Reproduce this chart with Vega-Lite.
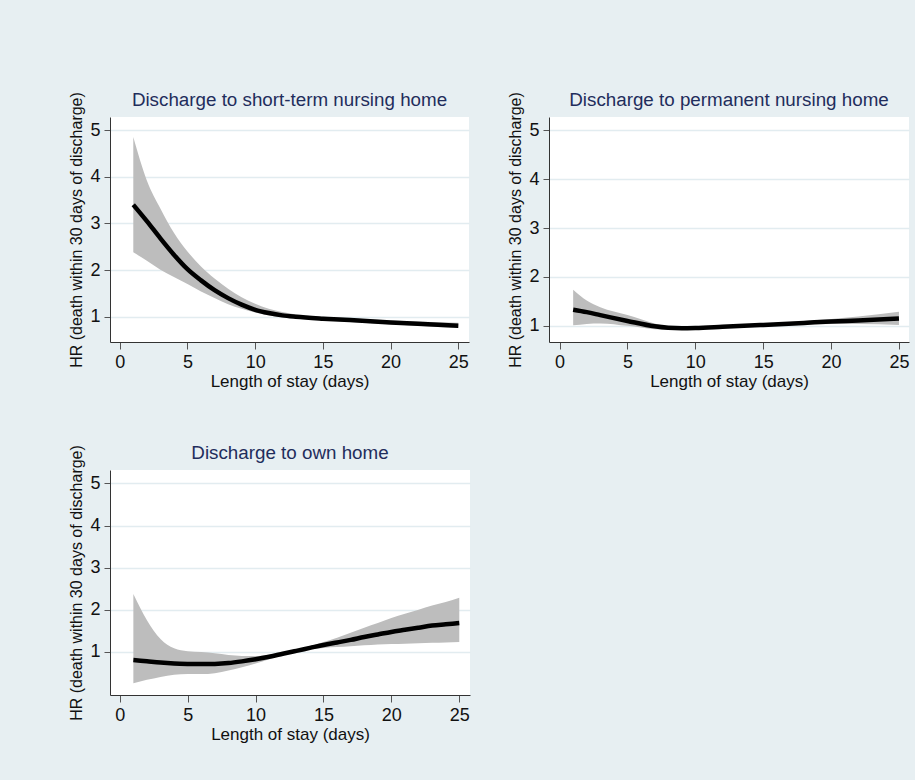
{
  "$schema": "https://vega.github.io/schema/vega-lite/v6.json",
  "background": "#e7eff2",
  "padding": {"left": 68, "top": 90, "right": 6, "bottom": 40},
  "config": {
    "font": "Liberation Sans",
    "view": {"fill": "white", "stroke": null},
    "title": {"fontSize": 18.8, "fontWeight": "normal", "color": "#1f2d5c", "offset": -18, "anchor": "middle"},
    "axis": {"domainColor": "#333333", "tickColor": "#555555", "labelColor": "#111111", "titleColor": "#111111", "labelFont": "Liberation Sans", "titleFont": "Liberation Sans", "titleFontWeight": "normal"},
    "axisX": {"grid": false, "tickSize": 7, "labelFontSize": 18, "labelPadding": 4, "titleFontSize": 17, "titlePadding": 2},
    "axisY": {"grid": true, "gridColor": "#e2ecf0", "gridWidth": 1.5, "tickSize": 6, "labelFontSize": 18, "labelPadding": 4, "titleFontSize": 16, "titlePadding": 5}
  },
  "datasets": {
    "d": [
      {"p": 1, "x": 1, "hr": 3.40, "lo": 2.38, "hi": 4.85},
      {"p": 1, "x": 2, "hr": 3.05, "lo": 2.20, "hi": 3.92},
      {"p": 1, "x": 3, "hr": 2.68, "lo": 2.01, "hi": 3.32},
      {"p": 1, "x": 4, "hr": 2.33, "lo": 1.85, "hi": 2.80},
      {"p": 1, "x": 5, "hr": 2.02, "lo": 1.70, "hi": 2.40},
      {"p": 1, "x": 6, "hr": 1.78, "lo": 1.54, "hi": 2.08},
      {"p": 1, "x": 7, "hr": 1.57, "lo": 1.40, "hi": 1.82},
      {"p": 1, "x": 8, "hr": 1.40, "lo": 1.27, "hi": 1.60},
      {"p": 1, "x": 9, "hr": 1.26, "lo": 1.17, "hi": 1.42},
      {"p": 1, "x": 10, "hr": 1.15, "lo": 1.09, "hi": 1.28},
      {"p": 1, "x": 11, "hr": 1.08, "lo": 1.03, "hi": 1.17},
      {"p": 1, "x": 12, "hr": 1.03, "lo": 0.99, "hi": 1.10},
      {"p": 1, "x": 13, "hr": 1.00, "lo": 0.97, "hi": 1.05},
      {"p": 1, "x": 15, "hr": 0.96, "lo": 0.93, "hi": 1.00},
      {"p": 1, "x": 17, "hr": 0.93, "lo": 0.89, "hi": 0.97},
      {"p": 1, "x": 20, "hr": 0.88, "lo": 0.84, "hi": 0.92},
      {"p": 1, "x": 22, "hr": 0.85, "lo": 0.81, "hi": 0.90},
      {"p": 1, "x": 25, "hr": 0.81, "lo": 0.76, "hi": 0.87},
      {"p": 2, "x": 1, "hr": 1.33, "lo": 1.01, "hi": 1.74},
      {"p": 2, "x": 2, "hr": 1.28, "lo": 1.04, "hi": 1.52},
      {"p": 2, "x": 3, "hr": 1.22, "lo": 1.05, "hi": 1.38},
      {"p": 2, "x": 5, "hr": 1.10, "lo": 1.00, "hi": 1.22},
      {"p": 2, "x": 7, "hr": 0.99, "lo": 0.93, "hi": 1.05},
      {"p": 2, "x": 8, "hr": 0.96, "lo": 0.92, "hi": 0.99},
      {"p": 2, "x": 9, "hr": 0.95, "lo": 0.92, "hi": 0.97},
      {"p": 2, "x": 10, "hr": 0.955, "lo": 0.93, "hi": 0.975},
      {"p": 2, "x": 12, "hr": 0.98, "lo": 0.96, "hi": 1.00},
      {"p": 2, "x": 15, "hr": 1.02, "lo": 1.00, "hi": 1.04},
      {"p": 2, "x": 18, "hr": 1.06, "lo": 1.03, "hi": 1.10},
      {"p": 2, "x": 20, "hr": 1.09, "lo": 1.04, "hi": 1.14},
      {"p": 2, "x": 22, "hr": 1.11, "lo": 1.04, "hi": 1.19},
      {"p": 2, "x": 25, "hr": 1.15, "lo": 1.02, "hi": 1.29},
      {"p": 3, "x": 1, "hr": 0.80, "lo": 0.25, "hi": 2.37},
      {"p": 3, "x": 2, "hr": 0.77, "lo": 0.33, "hi": 1.75},
      {"p": 3, "x": 3, "hr": 0.74, "lo": 0.40, "hi": 1.30},
      {"p": 3, "x": 4, "hr": 0.72, "lo": 0.45, "hi": 1.08},
      {"p": 3, "x": 5, "hr": 0.71, "lo": 0.47, "hi": 1.01},
      {"p": 3, "x": 6, "hr": 0.705, "lo": 0.47, "hi": 0.99},
      {"p": 3, "x": 7, "hr": 0.71, "lo": 0.49, "hi": 0.96},
      {"p": 3, "x": 8, "hr": 0.73, "lo": 0.55, "hi": 0.92},
      {"p": 3, "x": 9, "hr": 0.77, "lo": 0.63, "hi": 0.90},
      {"p": 3, "x": 10, "hr": 0.82, "lo": 0.72, "hi": 0.90},
      {"p": 3, "x": 11, "hr": 0.88, "lo": 0.82, "hi": 0.93},
      {"p": 3, "x": 12, "hr": 0.95, "lo": 0.92, "hi": 0.98},
      {"p": 3, "x": 13, "hr": 1.02, "lo": 1.00, "hi": 1.05},
      {"p": 3, "x": 14, "hr": 1.09, "lo": 1.05, "hi": 1.13},
      {"p": 3, "x": 15, "hr": 1.16, "lo": 1.09, "hi": 1.23},
      {"p": 3, "x": 16, "hr": 1.22, "lo": 1.11, "hi": 1.33},
      {"p": 3, "x": 17, "hr": 1.28, "lo": 1.13, "hi": 1.45},
      {"p": 3, "x": 18, "hr": 1.35, "lo": 1.15, "hi": 1.57},
      {"p": 3, "x": 19, "hr": 1.41, "lo": 1.17, "hi": 1.68},
      {"p": 3, "x": 20, "hr": 1.47, "lo": 1.18, "hi": 1.80},
      {"p": 3, "x": 21, "hr": 1.52, "lo": 1.19, "hi": 1.90},
      {"p": 3, "x": 22, "hr": 1.57, "lo": 1.20, "hi": 2.00},
      {"p": 3, "x": 23, "hr": 1.62, "lo": 1.21, "hi": 2.10},
      {"p": 3, "x": 24, "hr": 1.65, "lo": 1.22, "hi": 2.18},
      {"p": 3, "x": 25, "hr": 1.68, "lo": 1.23, "hi": 2.28}
    ]
  },
  "columns": 2,
  "spacing": {"row": 128, "column": 79},
  "bounds": "flush",
  "concat": [
    {
      "title": "Discharge to short-term nursing home",
      "width": 359, "height": 225,
      "data": {"name": "d"},
      "transform": [{"filter": "datum.p == 1"}],
      "encoding": {
        "x": {"field": "x", "type": "quantitative", "scale": {"domain": [-0.72, 25.79], "nice": false, "zero": false}, "axis": {"values": [0, 5, 10, 15, 20, 25], "title": "Length of stay (days)"}}
      },
      "layer": [
        {"mark": {"type": "area", "color": "#bdbdbd", "interpolate": "monotone", "clip": true}, "encoding": {"y": {"field": "lo", "type": "quantitative", "scale": {"domain": [0.46, 5.28], "nice": false, "zero": false}, "axis": {"values": [1, 2, 3, 4, 5], "title": "HR (death within 30 days of discharge)"}}, "y2": {"field": "hi"}}},
        {"mark": {"type": "line", "color": "black", "strokeWidth": 4.5, "interpolate": "monotone", "clip": true}, "encoding": {"y": {"field": "hr", "type": "quantitative"}}}
      ]
    },
    {
      "title": "Discharge to permanent nursing home",
      "width": 360, "height": 225,
      "data": {"name": "d"},
      "transform": [{"filter": "datum.p == 2"}],
      "encoding": {
        "x": {"field": "x", "type": "quantitative", "scale": {"domain": [-0.78, 25.74], "nice": false, "zero": false}, "axis": {"values": [0, 5, 10, 15, 20, 25], "title": "Length of stay (days)"}}
      },
      "layer": [
        {"mark": {"type": "area", "color": "#bdbdbd", "interpolate": "monotone", "clip": true}, "encoding": {"y": {"field": "lo", "type": "quantitative", "scale": {"domain": [0.67, 5.27], "nice": false, "zero": false}, "axis": {"values": [1, 2, 3, 4, 5], "title": "HR (death within 30 days of discharge)"}}, "y2": {"field": "hi"}}},
        {"mark": {"type": "line", "color": "black", "strokeWidth": 4.5, "interpolate": "monotone", "clip": true}, "encoding": {"y": {"field": "hr", "type": "quantitative"}}}
      ]
    },
    {
      "title": "Discharge to own home",
      "width": 360, "height": 225,
      "data": {"name": "d"},
      "transform": [{"filter": "datum.p == 3"}],
      "encoding": {
        "x": {"field": "x", "type": "quantitative", "scale": {"domain": [-0.72, 25.79], "nice": false, "zero": false}, "axis": {"values": [0, 5, 10, 15, 20, 25], "title": "Length of stay (days)"}}
      },
      "layer": [
        {"mark": {"type": "area", "color": "#bdbdbd", "interpolate": "monotone", "clip": true}, "encoding": {"y": {"field": "lo", "type": "quantitative", "scale": {"domain": [-0.03, 5.32], "nice": false, "zero": false}, "axis": {"values": [1, 2, 3, 4, 5], "title": "HR (death within 30 days of discharge)"}}, "y2": {"field": "hi"}}},
        {"mark": {"type": "line", "color": "black", "strokeWidth": 4.5, "interpolate": "monotone", "clip": true}, "encoding": {"y": {"field": "hr", "type": "quantitative"}}}
      ]
    }
  ]
}
